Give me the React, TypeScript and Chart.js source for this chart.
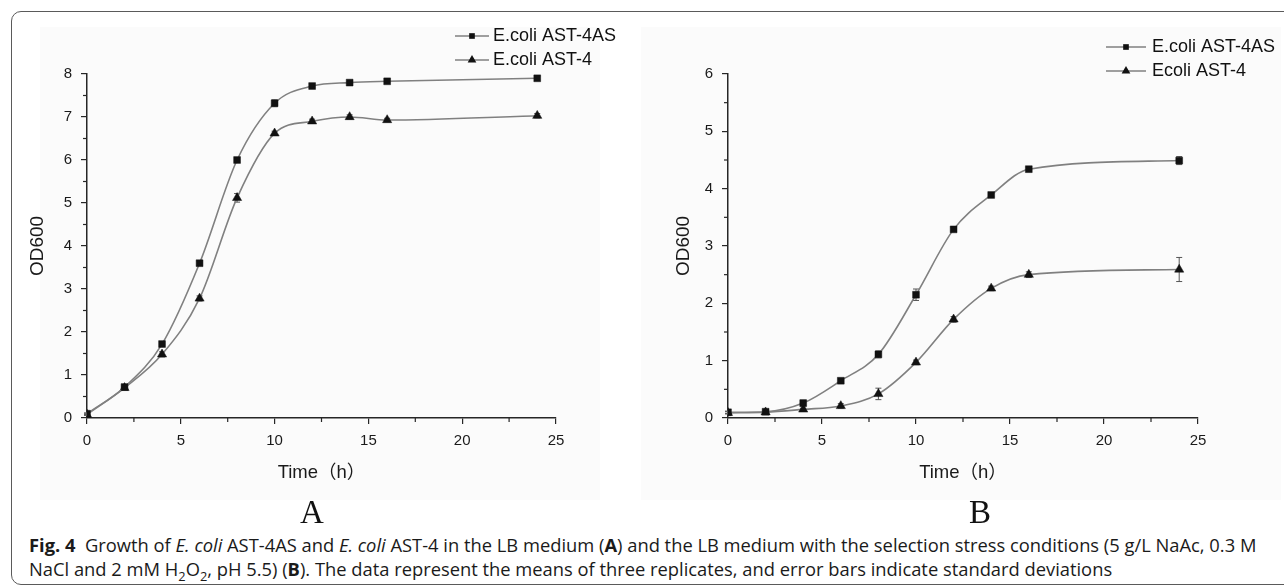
import React, { useEffect, useLayoutEffect, useRef, useState } from "react";
import { Chart, registerables } from "chart.js";

Chart.register(...registerables);

// ---------------- data ----------------
const timeHours = [0, 2, 4, 6, 8, 10, 12, 14, 16, 24];

const legendA = ["E.coli AST-4AS", "E.coli AST-4"];
const legendB = ["E.coli AST-4AS", "Ecoli AST-4"];

const odA_AST4AS = [0.1, 0.72, 1.72, 3.6, 6.0, 7.32, 7.72, 7.8, 7.83, 7.9];
const odA_AST4 = [0.08, 0.7, 1.48, 2.78, 5.12, 6.62, 6.9, 7.0, 6.93, 7.03];
const errA_AST4AS = [0.02, 0.03, 0.04, 0.05, 0.05, 0.08, 0.04, 0.03, 0.03, 0.04];
const errA_AST4 = [0.02, 0.03, 0.06, 0.06, 0.1, 0.05, 0.05, 0.05, 0.04, 0.05];

const odB_AST4AS = [0.1, 0.11, 0.26, 0.65, 1.11, 2.15, 3.29, 3.89, 4.34, 4.49];
const odB_AST4 = [0.09, 0.1, 0.15, 0.21, 0.42, 0.97, 1.72, 2.26, 2.5, 2.59];
const errB_AST4AS = [0.02, 0.03, 0.05, 0.03, 0.06, 0.1, 0.03, 0.03, 0.03, 0.07];
const errB_AST4 = [0.02, 0.03, 0.02, 0.04, 0.1, 0.04, 0.05, 0.04, 0.05, 0.21];

const xAxisMax = 25;
const xMajorStep = 5;
const xMinorStep = 2.5;
const yAxisMaxA = 8;
const yAxisMaxB = 6;
const yMajorStep = 1;
const yMinorStep = 0.5;

const xTitle = "Time（h）";
const yTitle = "OD600";

// ---------------- styles ----------------
const AXIS_COLOR = "#262626";
const LINE_COLOR = "#808080";
const MARK_COLOR = "#111111";
const SANS = "'Liberation Sans', Arial, 'Noto Sans CJK SC', sans-serif";

function drawMarker(ctx: CanvasRenderingContext2D, style: string, x: number, y: number, r: number, color: string) {
  ctx.fillStyle = color;
  ctx.beginPath();
  if (style === "rect") {
    const s = Math.SQRT1_2 * r;
    ctx.rect(x - s, y - s, 2 * s, 2 * s);
  } else {
    for (let k = 0; k < 3; k++) {
      const ang = k * (2 * Math.PI / 3);
      const px = x + Math.sin(ang) * r;
      const py = y - Math.cos(ang) * r;
      if (k === 0) ctx.moveTo(px, py);
      else ctx.lineTo(px, py);
    }
    ctx.closePath();
  }
  ctx.fill();
}

const minorTicksPlugin = {
  id: "minorTicks",
  afterDraw(chart: any, _args: any, opts: any) {
    const { ctx } = chart;
    const xs = chart.scales.x;
    const ys = chart.scales.y;
    ctx.save();
    ctx.strokeStyle = AXIS_COLOR;
    ctx.lineWidth = 1.2;
    const len = opts.len || 4;
    for (let v = xs.min; v <= xs.max + 1e-9; v += opts.xStep) {
      if (Math.abs(v / opts.xMajor - Math.round(v / opts.xMajor)) < 1e-6) continue;
      const px = xs.getPixelForValue(v);
      ctx.beginPath();
      ctx.moveTo(px, ys.bottom);
      ctx.lineTo(px, ys.bottom + len);
      ctx.stroke();
    }
    for (let v = ys.min; v <= ys.max + 1e-9; v += opts.yStep) {
      if (Math.abs(v / opts.yMajor - Math.round(v / opts.yMajor)) < 1e-6) continue;
      const py = ys.getPixelForValue(v);
      ctx.beginPath();
      ctx.moveTo(xs.left, py);
      ctx.lineTo(xs.left - len, py);
      ctx.stroke();
    }
    ctx.restore();
  },
};

const errorBarsPlugin = {
  id: "errorBars",
  beforeDatasetsDraw(chart: any) {
    const { ctx } = chart;
    const xs = chart.scales.x;
    const ys = chart.scales.y;
    ctx.save();
    ctx.strokeStyle = "#555";
    ctx.lineWidth = 1;
    chart.data.datasets.forEach((ds: any) => {
      const errs: number[] = ds.errors || [];
      ds.data.forEach((p: any, i: number) => {
        const e = errs[i];
        if (!e) return;
        const px = xs.getPixelForValue(p.x);
        const top = ys.getPixelForValue(p.y + e);
        const bot = ys.getPixelForValue(p.y - e);
        ctx.beginPath();
        ctx.moveTo(px, top);
        ctx.lineTo(px, bot);
        ctx.moveTo(px - 3, top);
        ctx.lineTo(px + 3, top);
        ctx.moveTo(px - 3, bot);
        ctx.lineTo(px + 3, bot);
        ctx.stroke();
      });
    });
    ctx.restore();
  },
};

const lineLegendPlugin = {
  id: "lineLegend",
  afterDraw(chart: any, _args: any, opts: any) {
    const { ctx } = chart;
    ctx.save();
    chart.data.datasets.forEach((ds: any, i: number) => {
      const y = opts.y + i * opts.rowGap;
      const x0 = opts.x;
      ctx.strokeStyle = LINE_COLOR;
      ctx.lineWidth = 1.5;
      ctx.beginPath();
      ctx.moveTo(x0, y);
      ctx.lineTo(x0 + opts.lineLen, y);
      ctx.stroke();
      drawMarker(ctx, ds.pointStyle, x0 + opts.lineLen / 2, y, ds.pointStyle === "rect" ? 4 : 5, MARK_COLOR);
      ctx.fillStyle = "#111";
      ctx.font = opts.font;
      ctx.textBaseline = "middle";
      ctx.textAlign = "left";
      ctx.fillText(ds.label, x0 + opts.lineLen + opts.gap, y);
    });
    ctx.restore();
  },
};

function toPoints(ys: number[]) {
  return timeHours.map((t, i) => ({ x: t, y: ys[i] }));
}

type PanelProps = {
  labels: string[];
  s1: number[];
  e1: number[];
  s2: number[];
  e2: number[];
  yMax: number;
  padLeft: number;
  padRight: number;
  yAxisWidth: number;
  legend: { x: number; y: number; lineLen: number; gap: number };
  left: number;
  width: number;
};

function Panel(p: PanelProps) {
  const ref = useRef<HTMLCanvasElement | null>(null);
  useEffect(() => {
    if (!ref.current) return;
    const chart = new Chart(ref.current, {
      type: "line",
      data: {
        datasets: [
          {
            label: p.labels[0],
            data: toPoints(p.s1),
            errors: p.e1,
            borderColor: LINE_COLOR,
            borderWidth: 1.6,
            pointStyle: "rect",
            pointRadius: 4.8,
            pointBackgroundColor: MARK_COLOR,
            pointBorderColor: MARK_COLOR,
            pointBorderWidth: 0.5,
            cubicInterpolationMode: "monotone",
          } as any,
          {
            label: p.labels[1],
            data: toPoints(p.s2),
            errors: p.e2,
            borderColor: LINE_COLOR,
            borderWidth: 1.6,
            pointStyle: "triangle",
            pointRadius: 5.3,
            pointBackgroundColor: MARK_COLOR,
            pointBorderColor: MARK_COLOR,
            pointBorderWidth: 0.5,
            cubicInterpolationMode: "monotone",
          } as any,
        ],
      },
      options: {
        animation: false,
        responsive: false,
        events: [],
        layout: { padding: { left: p.padLeft, right: p.padRight, top: 74, bottom: 12 } },
        plugins: {
          legend: { display: false },
          tooltip: { enabled: false },
          title: { display: false },
          minorTicks: { xStep: xMinorStep, xMajor: xMajorStep, yStep: yMinorStep, yMajor: yMajorStep, len: 4 },
          lineLegend: { ...p.legend, rowGap: 24, font: `18px ${SANS}` },
        } as any,
        scales: {
          x: {
            type: "linear",
            min: 0,
            max: xAxisMax,
            afterFit: (s: any) => { s.height = 70; },
            ticks: { stepSize: xMajorStep, color: "#1a1a1a", font: { family: SANS, size: 15 }, padding: 8, maxRotation: 0 },
            grid: { drawOnChartArea: false, drawTicks: true, tickLength: 6, color: AXIS_COLOR, lineWidth: 1.2 },
            border: { display: true, color: AXIS_COLOR, width: 1.5 },
            title: { display: true, text: xTitle, color: "#1a1a1a", font: { family: SANS, size: 18.5 }, padding: { top: 0, bottom: 4 } },
          },
          y: {
            type: "linear",
            min: 0,
            max: p.yMax,
            afterFit: (s: any) => { s.width = p.yAxisWidth; },
            ticks: { stepSize: yMajorStep, color: "#1a1a1a", font: { family: SANS, size: 15 }, padding: 9 },
            grid: { drawOnChartArea: false, drawTicks: true, tickLength: 6, color: AXIS_COLOR, lineWidth: 1.2 },
            border: { display: true, color: AXIS_COLOR, width: 1.5 },
            title: { display: true, text: yTitle, color: "#1a1a1a", font: { family: SANS, size: 19 }, padding: { top: 6, bottom: 0 } },
          },
        },
      },
      plugins: [minorTicksPlugin, errorBarsPlugin, lineLegendPlugin],
    } as any);
    return () => chart.destroy();
  }, []);
  return (
    <canvas
      ref={ref}
      width={p.width}
      height={500}
      style={{ position: "absolute", left: p.left, top: 0, width: p.width, height: 500 }}
    />
  );
}

const CAPTION_WIDTH = 1228;

export default function App() {
  const line1Ref = useRef<HTMLSpanElement | null>(null);
  const [capSize, setCapSize] = useState(15.5);
  useLayoutEffect(() => {
    if (!line1Ref.current) return;
    const w = line1Ref.current.getBoundingClientRect().width;
    if (w > 0) {
      const next = capSize * CAPTION_WIDTH / w;
      if (Math.abs(next - capSize) > 0.02) setCapSize(next);
    }
  }, [capSize]);

  const capStyle: React.CSSProperties = {
    position: "absolute",
    left: 29,
    whiteSpace: "nowrap",
    fontFamily: "'Open Sans', 'Noto Sans', sans-serif",
    fontSize: capSize,
    color: "#1a1a1a",
    lineHeight: "24px",
  };

  return (
    <div style={{ position: "fixed", left: 0, top: 0, width: 1284, height: 588, overflow: "hidden", background: "#fff" }}>
      <div style={{ position: "absolute", left: 40, top: 27, width: 560, height: 473, background: "#fbfbfb" }} />
      <div style={{ position: "absolute", left: 641, top: 27, width: 640, height: 473, background: "#fbfbfb" }} />
      <div
        style={{
          position: "absolute",
          left: 11,
          top: 11,
          width: 1320,
          height: 574,
          border: "1.5px solid #5a5a5a",
          borderRadius: 10,
          boxSizing: "border-box",
        }}
      />
      <Panel
        labels={legendA}
        s1={odA_AST4AS}
        e1={errA_AST4AS}
        s2={odA_AST4}
        e2={errA_AST4}
        yMax={yAxisMaxA}
        padLeft={20}
        padRight={84}
        yAxisWidth={67}
        legend={{ x: 455, y: 36, lineLen: 34, gap: 4 }}
        left={0}
        width={640}
      />
      <Panel
        labels={legendB}
        s1={odB_AST4AS}
        e1={errB_AST4AS}
        s2={odB_AST4}
        e2={errB_AST4}
        yMax={yAxisMaxB}
        padLeft={26}
        padRight={86}
        yAxisWidth={62}
        legend={{ x: 466, y: 47, lineLen: 40, gap: 6 }}
        left={640}
        width={644}
      />
      <div style={{ position: "absolute", left: 312, top: 512, transform: "translate(-50%, -50%)", fontFamily: "'Liberation Serif', 'Times New Roman', serif", fontSize: 33, color: "#111" }}>A</div>
      <div style={{ position: "absolute", left: 980, top: 512, transform: "translate(-50%, -50%)", fontFamily: "'Liberation Serif', 'Times New Roman', serif", fontSize: 33, color: "#111" }}>B</div>
      <div style={{ ...capStyle, top: 545 - 12 }}>
        <span ref={line1Ref}>
          <b>Fig. 4</b>{"\u00a0\u00a0"}Growth of <i>E. coli</i> AST-4AS and <i>E. coli</i> AST-4 in the LB medium (<b>A</b>) and the LB medium with the selection stress conditions (5 g/L NaAc, 0.3 M
        </span>
      </div>
      <div style={{ ...capStyle, top: 569 - 12 }}>
        <span>
          NaCl and 2 mM H<sub style={{ fontSize: "0.7em", lineHeight: 0 }}>2</sub>O<sub style={{ fontSize: "0.7em", lineHeight: 0 }}>2</sub>, pH 5.5) (<b>B</b>). The data represent the means of three replicates, and error bars indicate standard deviations
        </span>
      </div>
    </div>
  );
}
